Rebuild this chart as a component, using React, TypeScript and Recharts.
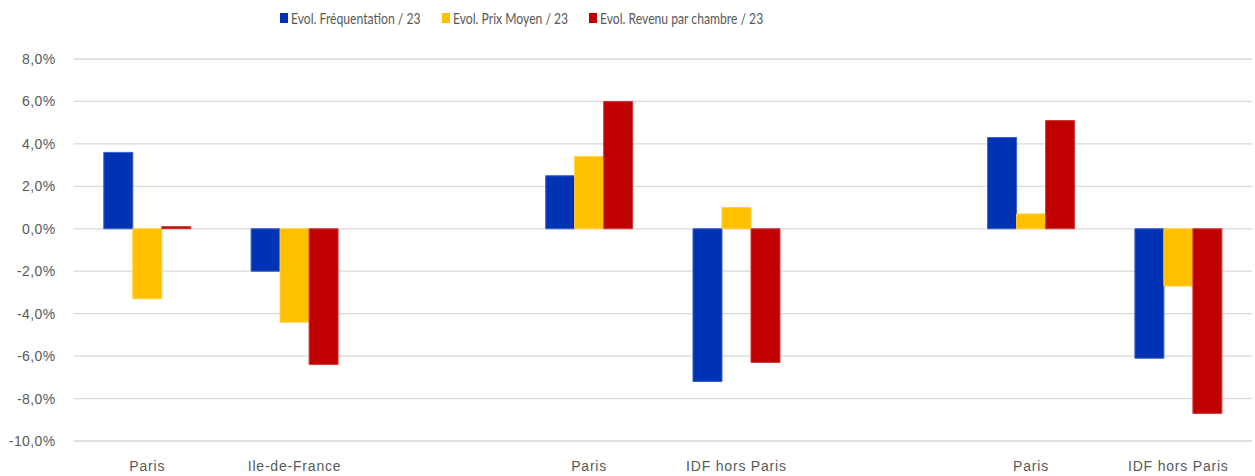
import React from 'react';
import { BarChart, Bar, XAxis, YAxis, CartesianGrid, Legend } from 'recharts';

const categories = ['Paris', 'Ile-de-France', '', 'Paris', 'IDF hors Paris', '', 'Paris', 'IDF hors Paris'];
const frequentation = [3.6, -2.0, null, 2.5, -7.2, null, 4.3, -6.1];
const prixMoyen = [-3.3, -4.4, null, 3.4, 1.0, null, 0.7, -2.7];
const revenu = [0.1, -6.4, null, 6.0, -6.3, null, 5.1, -8.7];
const yTicks = [-10, -8, -6, -4, -2, 0, 2, 4, 6, 8];

const seriesNames = ['Evol. Fréquentation / 23', 'Evol. Prix Moyen / 23', 'Evol. Revenu par chambre / 23'];
const seriesColors = ['#0033B4', '#FFC000', '#C00000'];

const data = categories.map((name, i) => ({
  name,
  f: frequentation[i],
  p: prixMoyen[i],
  r: revenu[i],
}));

const fmt = (v: number) => v.toFixed(1).replace('.', ',') + '%';

const FONT = '"Liberation Sans", Arial, sans-serif';
const LFONT = 'Lato, "Liberation Sans", sans-serif';

const LegendContent = () => (
  <div style={{ height: 59, position: 'relative', fontFamily: LFONT }}>
    {[280, 442, 589].map((left, i) => (
      <div key={i} style={{ position: 'absolute', left, top: 10, display: 'flex', alignItems: 'center', height: 16 }}>
        <div style={{ width: 7.5, height: 10.5, background: seriesColors[i], marginRight: 3, flexShrink: 0 }} />
        <span
          style={{
            fontSize: 15,
            color: '#595959',
            whiteSpace: 'nowrap',
            display: 'inline-block',
            transform: 'scaleX(0.81)',
            transformOrigin: 'left center',
          }}
        >
          {seriesNames[i]}
        </span>
      </div>
    ))}
  </div>
);

export default function App() {
  return (
    <div style={{ position: 'absolute', left: 0, top: 0, width: 1255, height: 476, background: '#fff' }}>
      <BarChart
        width={1255}
        height={476}
        data={data}
        margin={{ top: 0, right: 3, bottom: 0, left: 0 }}
        barCategoryGap="20.5%"
        barGap={0}
      >
        <Legend verticalAlign="top" align="left" content={<LegendContent />} wrapperStyle={{ left: 0, top: 0, width: 1255 }} />
        <CartesianGrid vertical={false} stroke="#D9D9D9" strokeWidth={1.3} />
        <XAxis
          dataKey="name"
          interval={0}
          axisLine={false}
          tickLine={false}
          tickSize={0}
          tickMargin={20}
          height={35}
          tick={{ fill: '#595959', fontSize: 14, fontFamily: FONT, letterSpacing: 0.8 }}
        />
        <YAxis
          domain={[-10, 8]}
          ticks={yTicks}
          axisLine={false}
          tickLine={false}
          tickSize={0}
          tickMargin={18}
          width={73.6}
          tickFormatter={fmt}
          tick={{ fill: '#595959', fontSize: 14, fontFamily: FONT, letterSpacing: 0.4 }}
        />
        <Bar dataKey="f" name={seriesNames[0]} fill={seriesColors[0]} stroke="#3A5FC8" strokeWidth={1} isAnimationActive={false} />
        <Bar dataKey="p" name={seriesNames[1]} fill={seriesColors[1]} stroke="#FFCF40" strokeWidth={1} isAnimationActive={false} />
        <Bar dataKey="r" name={seriesNames[2]} fill={seriesColors[2]} stroke="#D03A3A" strokeWidth={1} isAnimationActive={false} />
      </BarChart>
    </div>
  );
}
